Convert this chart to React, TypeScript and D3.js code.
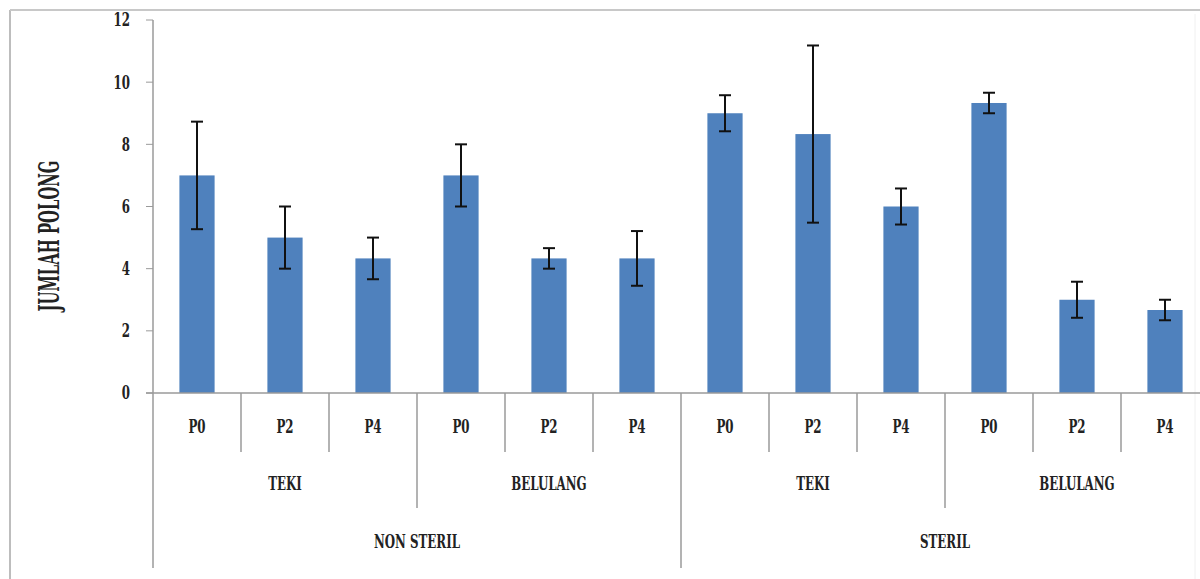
import React from "react";
import * as d3 from "d3";

const treatments = ["P0", "P2", "P4", "P0", "P2", "P4", "P0", "P2", "P4", "P0", "P2", "P4"];
const media = ["TEKI", "BELULANG", "TEKI", "BELULANG"];
const conditions = ["NON STERIL", "STERIL"];
const means = [7.0, 5.0, 4.33, 7.0, 4.33, 4.33, 9.0, 8.33, 6.0, 9.33, 3.0, 2.67];
const errors = [1.73, 1.0, 0.67, 1.0, 0.33, 0.88, 0.58, 2.85, 0.58, 0.33, 0.58, 0.33];
const yTicks = [0, 2, 4, 6, 8, 10, 12];

const W = 1200;
const H = 579;
const left = 153;
const right = 1209;
const top = 20;
const bottom = 393;
const font = "'DejaVu Serif', serif";
const axisColor = "#9a9a9a";
const textColor = "#222";

type TxtProps = {
  x: number;
  y: number;
  anchor?: "start" | "middle" | "end";
  size?: number;
  sx?: number;
  rotate?: number;
  dy?: string;
  children: React.ReactNode;
};

function Txt({ x, y, anchor = "middle", size = 18, sx = 0.73, rotate = 0, dy, children }: TxtProps) {
  return (
    <text
      transform={`translate(${x},${y}) rotate(${rotate}) scale(${sx},1)`}
      textAnchor={anchor}
      dy={dy}
      fontFamily={font}
      fontWeight="bold"
      fontSize={size}
      style={{ fontStretch: "condensed" }}
      fill={textColor}
    >
      {children}
    </text>
  );
}

export default function App() {
  const idx = d3.range(treatments.length);
  const x = d3.scaleBand<number>().domain(idx).range([left, right]).paddingInner(0).paddingOuter(0);
  const y = d3.scaleLinear().domain([0, 12]).range([bottom, top]);
  const bw = x.bandwidth();
  const barW = bw * 0.4;
  const cap = 6;

  const boundaries = d3.range(treatments.length + 1).map((i) => {
    const xp = left + i * bw;
    let end = 452;
    if (i % 6 === 0) end = 568;
    else if (i % 3 === 0) end = 508;
    return { xp, end };
  });

  return (
    <svg width={W} height={H} style={{ position: "absolute", left: 0, top: 0, background: "#fff" }}>
      {/* outer frame */}
      <line x1={10} y1={10} x2={10} y2={H} stroke="#bdbdbd" strokeWidth={2} />
      <line x1={10} y1={10} x2={W} y2={10} stroke="#c8c8c8" strokeWidth={2} />
      <line x1={1195} y1={14} x2={1195} y2={H} stroke="#f0f0f0" strokeWidth={1} />

      {/* y axis ticks and labels */}
      {yTicks.map((t) => (
        <g key={t}>
          <line x1={146} x2={left} y1={y(t)} y2={y(t)} stroke={axisColor} strokeWidth={1} />
          <Txt x={130} y={y(t)} anchor="end" dy="0.36em">
            {t}
          </Txt>
        </g>
      ))}

      {/* y axis title */}
      <Txt x={59} y={236} rotate={-90} size={27} sx={0.61}>
        JUMLAH POLONG
      </Txt>

      {/* bars */}
      {means.map((m, i) => {
        const cx = (x(i) as number) + bw / 2;
        return <rect key={i} x={cx - barW / 2} y={y(m)} width={barW} height={y(0) - y(m)} fill="#4f81bd" />;
      })}

      {/* error bars */}
      {means.map((m, i) => {
        const cx = (x(i) as number) + bw / 2;
        const y1 = y(m + errors[i]);
        const y2 = y(m - errors[i]);
        return (
          <g key={i} stroke="#111" strokeWidth={2}>
            <line x1={cx} x2={cx} y1={y1} y2={y2} />
            <line x1={cx - cap} x2={cx + cap} y1={y1} y2={y1} />
            <line x1={cx - cap} x2={cx + cap} y1={y2} y2={y2} />
          </g>
        );
      })}

      {/* y axis line */}
      <line x1={left} x2={left} y1={top} y2={568} stroke={axisColor} strokeWidth={1.5} />
      {/* x axis line */}
      <line x1={left - 7} x2={right} y1={bottom} y2={bottom} stroke={axisColor} strokeWidth={1.5} />

      {/* category boundaries */}
      {boundaries.slice(1).map((b, i) => (
        <line key={i} x1={b.xp} x2={b.xp} y1={bottom} y2={b.end} stroke={axisColor} strokeWidth={1.5} />
      ))}

      {/* treatment labels */}
      {treatments.map((t, i) => (
        <Txt key={i} x={(x(i) as number) + bw / 2} y={433}>
          {t}
        </Txt>
      ))}

      {/* media labels */}
      {media.map((m, i) => (
        <Txt key={i} x={left + (i * 3 + 1.5) * bw} y={490}>
          {m}
        </Txt>
      ))}

      {/* condition labels */}
      {conditions.map((c, i) => (
        <Txt key={i} x={left + (i * 6 + 3) * bw} y={548}>
          {c}
        </Txt>
      ))}
    </svg>
  );
}
